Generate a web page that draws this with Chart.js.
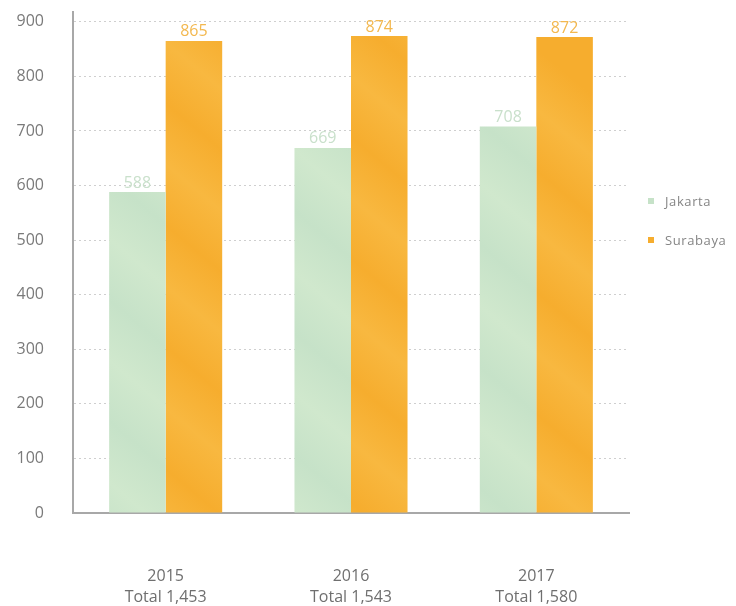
<!DOCTYPE html>
<html>
<head>
<meta charset="utf-8">
<script src="https://cdn.jsdelivr.net/npm/chart.js@4/dist/chart.umd.min.js"></script>
<style>
  html, body { margin: 0; padding: 0; background: #fff; }
  #wrap { position: relative; width: 736px; height: 606px; }
  #legend { position: absolute; left: 648px; top: 191px; font-family: "Open Sans", Lato, sans-serif; font-size: 13px; letter-spacing: 0.6px; color: #858585; }
  #legend div { display: flex; align-items: center; height: 20px; margin-bottom: 19px; }
  #legend span.sw { width: 6px; height: 6px; margin-right: 11px; display: inline-block; }
</style>
</head>
<body>
<div id="wrap">
  <canvas id="c" width="736" height="606"></canvas>
  <div id="legend"></div>
</div>
<script>
// Categories and series values
const years = ['2015', '2016', '2017'];
const jakarta = [588, 669, 708];
const surabaya = [865, 874, 872];
const seriesNames = ['Jakarta', 'Surabaya'];
const yTicks = [0, 100, 200, 300, 400, 500, 600, 700, 800, 900];

const totals = years.map((_, i) => jakarta[i] + surabaya[i]);
const xLabels = years.map((y, i) => [y, 'Total ' + totals[i].toLocaleString('en-US')]);

const barColors = ['#c6e2c8', '#f6ad2e'];
const labelColors = ['#c9e0cb', '#f3b84f'];
const fontFamily = '"Open Sans", Lato, sans-serif';

// Soft diagonal streaks across each bar
function streakFill(base, light) {
  return (ctx) => {
    const chart = ctx.chart;
    const area = chart.chartArea;
    if (!area) return base;
    const g = chart.ctx.createLinearGradient(area.left, area.bottom, area.left + 420, area.top);
    const n = 14;
    for (let k = 0; k <= n; k++) {
      g.addColorStop(k / n, k % 2 === 0 ? base : light);
    }
    return g;
  };
}

const valueLabels = {
  id: 'valueLabels',
  afterDatasetsDraw(chart) {
    const ctx = chart.ctx;
    ctx.save();
    ctx.font = '16px ' + fontFamily;
    ctx.textAlign = 'center';
    ctx.textBaseline = 'bottom';
    chart.data.datasets.forEach((ds, di) => {
      const meta = chart.getDatasetMeta(di);
      ctx.fillStyle = labelColors[di];
      meta.data.forEach((bar, i) => {
        ctx.fillText(String(ds.data[i]), bar.x, bar.y - 1);
      });
    });
    ctx.restore();
  }
};

new Chart(document.getElementById('c'), {
  type: 'bar',
  data: {
    labels: xLabels,
    datasets: [
      { label: seriesNames[0], data: jakarta, backgroundColor: streakFill('#c6e2c8', '#d0e8cd') },
      { label: seriesNames[1], data: surabaya, backgroundColor: streakFill('#f6ad2e', '#f8b840') }
    ]
  },
  options: {
    responsive: false,
    animation: false,
    layout: { padding: { left: 0, right: 107, top: 12, bottom: 0 } },
    datasets: { bar: { categoryPercentage: 0.61, barPercentage: 1.0 } },
    plugins: { legend: { display: false }, tooltip: { enabled: false } },
    scales: {
      x: {
        grid: { display: false, drawTicks: false },
        border: { display: true, color: '#a8a8a8', width: 2 },
        ticks: { color: '#6f6f6f', font: { family: fontFamily, size: 16, lineHeight: 1.3 }, padding: 53, maxRotation: 0 },
        afterFit(scale) { scale.height = 93; }
      },
      y: {
        min: 0,
        max: 918,
        afterBuildTicks(scale) { scale.ticks = yTicks.map(v => ({ value: v })); },
        grid: { color: '#cfcfcf', drawTicks: false, lineWidth: 1 },
        border: { display: true, color: '#a8a8a8', width: 2, dash: [2, 3] },
        ticks: { color: '#7a7a7a', font: { family: fontFamily, size: 16 }, padding: 29 },
        afterFit(scale) {
          scale.width = 73;
          scale.paddingTop = 0;
          scale.paddingBottom = 0;
        }
      }
    }
  },
  plugins: [valueLabels]
});

// Legend
const legend = document.getElementById('legend');
seriesNames.forEach((name, i) => {
  const row = document.createElement('div');
  const sw = document.createElement('span');
  sw.className = 'sw';
  sw.style.background = barColors[i];
  row.appendChild(sw);
  row.appendChild(document.createTextNode(name));
  legend.appendChild(row);
});
</script>
</body>
</html>
